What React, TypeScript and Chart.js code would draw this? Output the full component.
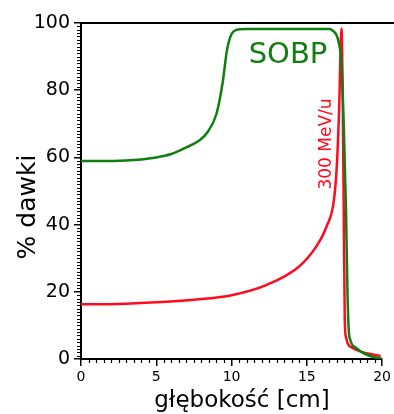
import React, { useEffect, useRef } from "react";
import { Chart, registerables } from "chart.js";

Chart.register(...registerables);

// SOBP (green) depth-dose curve
const depthSOBP = [0, 3, 5, 6, 7, 7.85, 8.4, 9.0, 9.4, 9.7, 10.0, 10.3, 11, 16.5, 16.75, 16.97, 17.13, 17.3, 17.45, 17.6, 17.7, 17.78, 17.9, 18.3, 18.85, 19.5, 20];
const doseSOBP = [58.9, 59.1, 60.0, 61.0, 63.0, 65.0, 67.5, 73, 82, 92, 96.7, 97.9, 98.2, 98.2, 97.6, 96.4, 94, 88, 70, 45, 20, 9, 5.5, 3.2, 1.5, 0.5, 0.1];

// 300 MeV/u (red) Bragg curve
const depthBragg = [0, 2.5, 5, 7.85, 10, 12.3, 14.45, 15.6, 16.3, 16.8, 17.0, 17.15, 17.3, 17.38, 17.45, 17.52, 17.6, 18.07, 18.6, 19.3, 19.9];
const doseBragg = [16.3, 16.4, 16.9, 17.8, 19.0, 22.0, 27.4, 33.3, 39.3, 47.3, 58, 75, 98.4, 80, 45, 12, 6.5, 3.2, 2.2, 1.4, 0.9];

const xTicks = [0, 5, 10, 15, 20];
const yTicks = [0, 20, 40, 60, 80, 100];

const xTitle = "głębokość [cm]";
const yTitle = "% dawki";
const labelSOBP = "SOBP";
const labelBragg = "300 MeV/u";

const GREEN = "#107f10";
const RED = "#ff0a1e";
const FONT = "'DejaVu Sans', sans-serif";

const decorPlugin = {
  id: "decor",
  afterDraw(chart: any) {
    const { ctx, chartArea } = chart;
    const xs = chart.scales.x;
    const ys = chart.scales.y;
    ctx.save();
    // top line at 100
    ctx.strokeStyle = "#000";
    ctx.lineWidth = 2;
    ctx.beginPath();
    ctx.moveTo(chartArea.left, ys.getPixelForValue(100));
    ctx.lineTo(chart.width, ys.getPixelForValue(100));
    ctx.stroke();
    // minor ticks
    ctx.lineWidth = 1.2;
    ctx.beginPath();
    for (let v = 0; v <= 100; v += 1) {
      if (v % 20 === 0) continue;
      const py = Math.round(ys.getPixelForValue(v)) + 0.5;
      ctx.moveTo(chartArea.left, py);
      ctx.lineTo(chartArea.left - 4, py);
    }
    for (let v = 0; v <= 20; v += 0.5) {
      if (v % 5 === 0) continue;
      const px = Math.round(xs.getPixelForValue(v)) + 0.5;
      ctx.moveTo(px, chartArea.bottom);
      ctx.lineTo(px, chartArea.bottom + 4);
    }
    ctx.stroke();

    // axis titles
    ctx.fillStyle = "#000";
    ctx.font = `23px ${FONT}`;
    ctx.textAlign = "center";
    ctx.textBaseline = "alphabetic";
    ctx.fillText(xTitle, chartArea.left + 161, chartArea.bottom + 48);

    ctx.save();
    ctx.font = `25px ${FONT}`;
    ctx.translate(35, chartArea.top + 184);
    ctx.rotate(-Math.PI / 2);
    ctx.fillText(yTitle, 0, 0);
    ctx.restore();

    // annotations
    ctx.fillStyle = GREEN;
    ctx.font = `29px ${FONT}`;
    ctx.fillText(labelSOBP, chartArea.left + 207, chartArea.top + 40);

    ctx.save();
    ctx.fillStyle = RED;
    ctx.font = `17px ${FONT}`;
    ctx.translate(chartArea.left + 250, chartArea.top + 121);
    ctx.rotate(-Math.PI / 2);
    ctx.fillText(labelBragg, 0, 0);
    ctx.restore();

    ctx.restore();
  },
};

export default function App() {
  const ref = useRef<HTMLCanvasElement>(null);
  useEffect(() => {
    document.body.style.margin = "0";
    const canvas = ref.current;
    if (!canvas) return;
    const chart = new Chart(canvas, {
      type: "line",
      data: {
        datasets: [
          {
            label: labelSOBP,
            data: depthSOBP.map((x, i) => ({ x, y: doseSOBP[i] })),
            borderColor: GREEN,
            borderWidth: 2.5,
            pointRadius: 0,
            cubicInterpolationMode: "monotone",
          },
          {
            label: labelBragg,
            data: depthBragg.map((x, i) => ({ x, y: doseBragg[i] })),
            borderColor: RED,
            borderWidth: 2.5,
            pointRadius: 0,
            cubicInterpolationMode: "monotone",
          },
        ],
      },
      options: {
        animation: false,
        responsive: false,
        layout: { padding: { left: 0, right: 10, top: 23, bottom: 0 } },
        plugins: { legend: { display: false }, tooltip: { enabled: false } },
        scales: {
          x: {
            type: "linear",
            min: 0,
            max: 20,
            afterBuildTicks: (s: any) => {
              s.ticks = xTicks.map((v) => ({ value: v }));
            },
            afterFit: (s: any) => {
              s.height = 55;
            },
            ticks: {
              font: { family: FONT, size: 14 },
              color: "#000",
              padding: 3,
              maxRotation: 0,
            },
            grid: { drawOnChartArea: false, drawTicks: true, tickLength: 7, color: "#000", lineWidth: 1.5 },
            border: { display: true, color: "#000", width: 2 },
          },
          y: {
            type: "linear",
            min: 0,
            max: 100,
            afterBuildTicks: (s: any) => {
              s.ticks = yTicks.map((v) => ({ value: v }));
            },
            afterFit: (s: any) => {
              s.width = 81;
            },
            ticks: {
              font: { family: FONT, size: 19 },
              color: "#000",
              padding: 4,
            },
            grid: { drawOnChartArea: false, drawTicks: true, tickLength: 7, color: "#000", lineWidth: 1.5 },
            border: { display: true, color: "#000", width: 2 },
          },
        },
      },
      plugins: [decorPlugin],
    } as any);
    return () => chart.destroy();
  }, []);
  return (
    <div style={{ position: "fixed", left: 0, top: 0, width: 394, height: 414, background: "#fff" }}>
      <canvas ref={ref} width={394} height={414} style={{ display: "block" }} />
    </div>
  );
}
